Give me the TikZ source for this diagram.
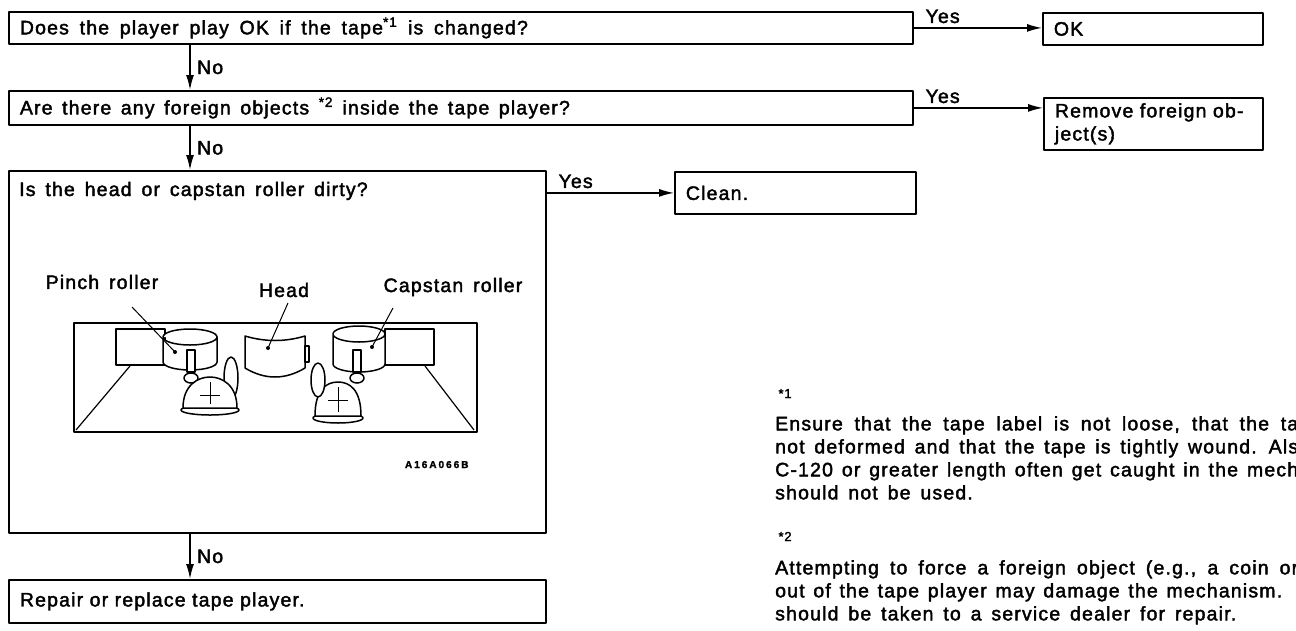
\documentclass[tikz,border=0pt]{standalone}
\usepackage{fontspec}
\setmainfont{Liberation Sans}[LetterSpace=6, WordSpace=1.5, FakeBold=2]
\usetikzlibrary{arrows.meta, positioning}

\tikzset{
  qbox/.style 2 args={draw, line width=1.8pt, anchor=north west, inner xsep=11pt,
    inner ysep=0pt, text width=#1, minimum height=#2, align=left},
  arr/.style={line width=1.5pt, -{Latex[length=15pt, width=8pt]}},
  yes/.style={pos=0, above right, inner sep=2pt, xshift=9pt, yshift=2pt},
  no/.style={midway, right, xshift=3pt},
  part/.style={line width=1.5pt, fill=white},
  note/.style={anchor=north west, inner sep=0pt, align=left},
  star/.style={anchor=base west, font=\fontsize{13}{14}\selectfont}
}
\newcommand{\wideline}[2]{\hbox to #1{\spaceskip=0pt\xspaceskip=0pt\relax #2}}

\begin{document}
\begin{tikzpicture}[x=1pt, y=-1pt, line join=round, font=\fontsize{19.5}{23}\selectfont]
  \useasboundingbox (0,0) rectangle (1296,630);

  % question boxes
  \node[qbox={882pt}{32pt}] (q1) at (8,11) {\wideline{508pt}{Does the player play OK if the tape\textsuperscript{*1} is changed?}};
  \node[qbox={882pt}{34pt}] (q2) at (8,90) {\wideline{550pt}{Are there any foreign objects \textsuperscript{*2} inside the tape player?}};
  \node[qbox={515pt}{362pt}] (q3) at (8,170) {};
  \node[anchor=base west, inner sep=0pt] (q3t) at (19,196) {Is the head or capstan roller dirty?};
  \node[qbox={515pt}{43pt}] (q4) at (8,579) {Repair or replace tape player.};

  % answer boxes
  \node[qbox={198pt}{32pt}] (ok) at (1042,12) {OK};
  \node[qbox={197pt}{52pt}] (rm) at (1043,97) {Remove foreign ob-\\ject(s)};
  \node[qbox={219pt}{42pt}] (cl) at (674,171) {Clean.};

  % connectors
  \draw[arr] (q1.east) -- (q1.east -| ok.west) node[yes] {Yes};
  \draw[arr] (q2.east) -- (q2.east -| rm.west) node[yes] {Yes};
  \draw[arr] (cl.west -| q3.east) -- (cl.west) node[yes] {Yes};
  \draw[arr] ([xshift=182pt]q1.south west) -- ([xshift=182pt]q2.north west) node[no] {No};
  \draw[arr] ([xshift=182pt]q2.south west) -- ([xshift=182pt]q3.north west) node[no] {No};
  \draw[arr] ([xshift=182pt]q3.south west) -- ([xshift=182pt]q4.north west) node[no] {No};

  % tape deck sketch
  \draw[line width=1.8pt] (74,323) rectangle (477,432);
  \draw[line width=1.2pt] (130,366) -- (76,430);
  \draw[line width=1.2pt] (425,366) -- (474,430);
  \draw[part] (116,329) rectangle (165,365);
  \draw[part] (385,329) rectangle (434,365);
  \foreach \cx/\rx/\ty/\by in {190/27/337/362, 359/26/334/364}
    \draw[part] (\cx-\rx,\ty) -- (\cx-\rx,\by) arc[start angle=180, end angle=0, x radius=\rx, y radius=8]
      -- (\cx+\rx,\ty) arc[start angle=0, end angle=-180, x radius=\rx, y radius=8]
      (\cx+\rx,\ty) arc[start angle=0, end angle=180, x radius=\rx, y radius=8];
  \draw[part] (245,336) -- (245,368) .. controls (265,380) and (285,380) .. (305,368)
    -- (305,336) .. controls (285,342) and (265,342) .. (245,336) -- cycle;
  \draw[part] (305,346) rectangle (309,362);
  \foreach \px in {191, 357} {
    \draw[part] (\px-4,350) rectangle (\px+4,372);
    \draw[part] (\px,378) ellipse [x radius=7, y radius=5];
  }
  \draw[part] (231,378) ellipse [x radius=7, y radius=21];
  \foreach \bx/\bw/\bt/\bb in {210/27/377/410, 338/23/382/418} {
    \draw[part] (\bx,\bb) ellipse [x radius=\bw+2, y radius=5];
    \draw[part] (\bx-\bw,\bb-2) .. controls (\bx-\bw,\bt+8) and (\bx-12,\bt) .. (\bx,\bt)
      .. controls (\bx+12,\bt) and (\bx+\bw,\bt+8) .. (\bx+\bw,\bb-2) -- cycle;
    \draw[line width=1pt] (\bx,\bt+5) -- (\bx,\bb-6) (\bx-10,\bt+18) -- (\bx+10,\bt+18);
  }
  \draw[part] (318,380) ellipse [x radius=7, y radius=17];

  % part labels
  \node (pinch) at (102,282) {Pinch roller};
  \node (head) at (284,290) {Head};
  \node (capstan) at (453,287) {Capstan roller};
  \coordinate (pl) at (132,307);
  \coordinate (hl) at (288,303);
  \coordinate (cpl) at (393,308);
  \coordinate (pdot) at (175,352);
  \coordinate (hdot) at (268,348);
  \coordinate (cdot) at (372,347);
  \foreach \a/\b in {pl/pdot, hl/hdot, cpl/cdot} {
    \draw[line width=1pt] (\a) -- (\b);
    \fill (\b) circle (2pt);
  }
  \node[anchor=base east, font=\fontsize{10}{11}\bfseries\addfontfeatures{LetterSpace=20}] (code) at (472,468) {A16A066B};

  % notes
  \node[star] (n1) at (775,398) {*1};
  \node[note] (n1t) at (775,416) {\wideline{523pt}{Ensure that the tape label is not loose, that the ta}\\
    \wideline{523pt}{not deformed and that the tape is tightly wound. Als}\\
    \wideline{523pt}{C-120 or greater length often get caught in the mech}\\
    should not be used.};
  \node[star] (n2) at (775,541) {*2};
  \node[note] (n2t) at (775,560) {\wideline{523pt}{Attempting to force a foreign object (e.g., a coin or}\\
    \wideline{507pt}{out of the tape player may damage the mechanism.}\\
    should be taken to a service dealer for repair.};
\end{tikzpicture}
\end{document}
